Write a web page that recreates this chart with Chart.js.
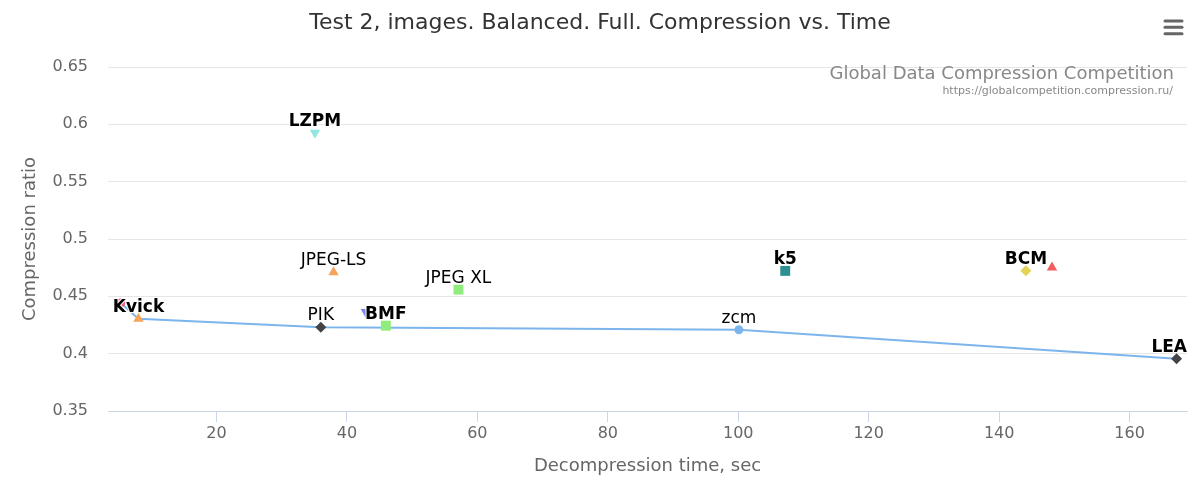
<!DOCTYPE html>
<html>
<head>
<meta charset="utf-8">
<script src="https://cdn.jsdelivr.net/npm/chart.js@4.4.0/dist/chart.umd.min.js"></script>
<style>
  html, body { margin: 0; padding: 0; background: #fff; }
  canvas { display: block; }
</style>
</head>
<body>
<canvas id="chart" width="1200" height="500"></canvas>
<script>
// --- data ---
// name '' = its label is hidden behind a neighbour's label
const names  = ['zcm', 'LEA', 'PIK', 'BMF', 'JPEG XL', 'Kvick', 'JPEG-LS', '', '', 'BCM', 'k5', '', 'LZPM'];
const times  = [100.1, 167.2, 36.0, 45.97, 57.1, 8.04, 37.95, 42.9, 5.32, 144.1, 107.2, 148.1, 35.1];
const ratios = [0.4209, 0.3955, 0.4230, 0.4244, 0.4558, 0.4305, 0.4710, 0.4363, 0.4442, 0.4723, 0.4722, 0.4751, 0.5926];
const seriesOf = [0, 1, 1, 2, 2, 3, 3, 4, 5, 6, 7, 8, 9];
const boldNames = ['LEA', 'BMF', 'Kvick', 'BCM', 'k5', 'LZPM'];

// pareto front
const frontTimes  = [5.32, 8.04, 36.0, 100.1, 167.2];
const frontRatios = [0.4442, 0.4305, 0.4230, 0.4209, 0.3955];

const xTicks = [20, 40, 60, 80, 100, 120, 140, 160];
const yTicks = [0.35, 0.4, 0.45, 0.5, 0.55, 0.6, 0.65];
const yTickLabels = ['0.35', '0.4', '0.45', '0.5', '0.55', '0.6', '0.65'];

const titleText = 'Test 2, images. Balanced. Full. Compression vs. Time';
const creditText = 'Global Data Compression Competition';
const creditUrl = 'https://globalcompetition.compression.ru/';

// --- style ---
const FONT = '"DejaVu Sans", Verdana, sans-serif';
const palette = ['#7cb5ec', '#434348', '#90ed7d', '#f7a35c', '#8085e9', '#f15c80', '#e4d354', '#2b908f', '#f45b5b', '#91e8e1'];
const markers = [
    { style: 'circle', r: 4.5, rot: 0 },
    { style: 'rectRot', r: 5.5, rot: 0 },
    { style: 'rect', r: 7, rot: 0 },
    { style: 'triangle', r: 6, rot: 0 },
    { style: 'triangle', r: 6, rot: 180 }
];

const datasets = names.map((n, i) => {
    const s = seriesOf[i];
    const m = markers[s % markers.length];
    return {
        label: n,
        data: [{ x: times[i], y: ratios[i] }],
        backgroundColor: palette[s],
        borderColor: palette[s],
        borderWidth: 0,
        pointStyle: m.style,
        pointRadius: m.r,
        rotation: m.rot,
        order: 0
    };
});

datasets.push({
    label: 'front',
    data: frontTimes.map((t, i) => ({ x: t, y: frontRatios[i] })),
    showLine: true,
    borderColor: '#7cb5ec',
    borderWidth: 2,
    pointRadius: 0,
    fill: false,
    order: 1
});

// подписи точек, заголовок, копирайт и меню
const decorPlugin = {
    id: 'decor',
    afterDatasetsDraw(chart) {
        const ctx = chart.ctx;
        const area = chart.chartArea;
        ctx.save();
        ctx.textAlign = 'center';
        ctx.textBaseline = 'alphabetic';
        ctx.lineJoin = 'round';
        names.forEach((n, i) => {
            if (!n) return;
            const el = chart.getDatasetMeta(i).data[0];
            ctx.font = (boldNames.includes(n) ? 'bold ' : '') + '17px ' + FONT;
            const w = ctx.measureText(n).width;
            let x = el.x;
            if (x + w / 2 > area.right) x = area.right - w / 2;
            if (x - w / 2 < area.left - 6) x = area.left - 6 + w / 2;
            const y = el.y - 7;
            ctx.strokeStyle = '#fff';
            ctx.lineWidth = 2;
            ctx.strokeText(n, x, y);
            ctx.fillStyle = '#000';
            ctx.fillText(n, x, y);
        });
        ctx.restore();
    },
    afterDraw(chart) {
        const ctx = chart.ctx;
        ctx.save();
        ctx.fillStyle = '#333';
        ctx.font = '22px ' + FONT;
        ctx.textAlign = 'center';
        ctx.textBaseline = 'middle';
        ctx.fillText(titleText, 600, 23);

        ctx.textAlign = 'right';
        ctx.fillStyle = '#888';
        ctx.font = '18px ' + FONT;
        ctx.fillText(creditText, 1174, 74);
        ctx.font = '11px ' + FONT;
        ctx.fillText(creditUrl, 1173, 91);

        ctx.strokeStyle = '#666';
        ctx.lineWidth = 3;
        ctx.lineCap = 'round';
        [21, 27.3, 33.7].forEach(y => {
            ctx.beginPath();
            ctx.moveTo(1165, y);
            ctx.lineTo(1182, y);
            ctx.stroke();
        });
        ctx.restore();
    }
};

const ctx = document.getElementById('chart').getContext('2d');
new Chart(ctx, {
    type: 'scatter',
    data: { datasets: datasets },
    options: {
        responsive: false,
        animation: false,
        layout: { padding: { top: 67, right: 13, left: 0, bottom: 0 } },
        plugins: {
            legend: { display: false },
            tooltip: { enabled: false },
            title: { display: false }
        },
        scales: {
            x: {
                type: 'linear',
                min: 3.37,
                max: 168.8,
                afterBuildTicks: s => { s.ticks = xTicks.map(v => ({ value: v })); },
                afterFit: s => { s.height = 89; },
                grid: {
                    drawOnChartArea: false,
                    drawTicks: true,
                    tickLength: 11,
                    color: '#ccd6eb'
                },
                border: { display: true, color: '#ccd6eb', width: 1 },
                ticks: {
                    color: '#666',
                    font: { family: FONT, size: 16 },
                    padding: 2,
                    maxRotation: 0
                },
                title: {
                    display: true,
                    text: 'Decompression time, sec',
                    color: '#666',
                    font: { family: FONT, size: 18 },
                    padding: { top: 0, bottom: 23 }
                }
            },
            y: {
                type: 'linear',
                min: 0.35,
                max: 0.65,
                afterBuildTicks: s => { s.ticks = yTicks.map(v => ({ value: v })); },
                afterFit: s => { s.width = 108; },
                grid: {
                    drawTicks: false,
                    color: c => (c.tick && c.tick.value === 0.35) ? 'rgba(0,0,0,0)' : '#e6e6e6'
                },
                border: { display: false },
                ticks: {
                    color: '#666',
                    font: { family: FONT, size: 16 },
                    padding: 20,
                    callback: (v, i) => yTickLabels[yTicks.indexOf(v)] ?? String(v)
                },
                title: {
                    display: true,
                    text: 'Compression ratio',
                    color: '#666',
                    font: { family: FONT, size: 18 },
                    padding: { top: 20, bottom: 0 }
                }
            }
        }
    },
    plugins: [decorPlugin]
});
</script>
</body>
</html>
